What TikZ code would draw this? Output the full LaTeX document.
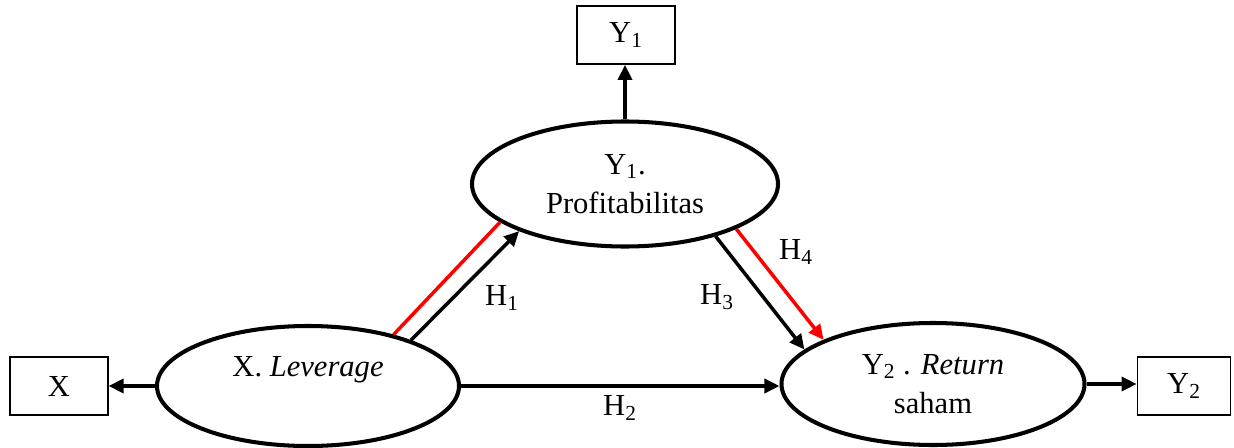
\documentclass[tikz,border=0pt]{standalone}
\usepackage{fontspec}
\setmainfont{Liberation Serif}
\usetikzlibrary{arrows.meta,positioning,shapes.geometric}

\tikzset{
  latent/.style={ellipse, draw, line width=2.3pt, inner sep=0pt, align=center},
  indic/.style={rectangle, draw, line width=1pt, minimum width=1.95cm, minimum height=1.16cm},
  path/.style={->, line width=2pt},
}

\begin{document}
\begin{tikzpicture}[>={Triangle[length=0.3cm,width=0.28cm]}, font=\fontsize{17.4}{22.5}\selectfont]
    \useasboundingbox (0,0) rectangle (24.68,8.94);
    % ---- the three constructs
    \node[latent, minimum width=6.04cm, minimum height=2.4cm] (lev) at (6.16,1.22)
      {X. \textit{Leverage}\\ ~};
    \node[latent, minimum width=6.12cm, minimum height=2.5cm] (prof) at (12.5,5.26)
      {Y\textsubscript{1}.\\ Profitabilitas};
    \node[latent, minimum width=6.06cm, minimum height=2.44cm] (ret) at (18.66,1.26)
      {Y\textsubscript{2} . \textit{Return}\\ saham};
    % ---- the indicator boxes
    \node[indic] (bx) at (1.18,1.22) {X};
    \node[indic] (by1) at (12.52,8.24) {Y\textsubscript{1}};
    \node[indic, minimum width=1.86cm] (by2) at (23.68,1.22) {Y\textsubscript{2}};
    \draw[path] (lev.west) -- (bx.east |- lev.west);
    \draw[path] (prof.north) -- (prof.north |- by1.south);
    \draw[path] (ret.east) -- (by2.west |- ret.east);
    % ---- hypotheses
    \draw[line width=2pt, red] (lev.31) -- (prof.197);
    \draw[path] (lev.24) -- (prof.204);
    \draw[path] (lev.east) -- (ret.west |- lev.east);
    \draw[path] (prof.330) -- (ret.165);
    \draw[path, red] (prof.338) -- (ret.158);
    \node (h1) at (10.04,2.98) {H\textsubscript{1}};
    \node (h2) at (12.4,0.78) {H\textsubscript{2}};
    \node (h3) at (14.34,3.0) {H\textsubscript{3}};
    \node (h4) at (15.92,3.9) {H\textsubscript{4}};
  \end{tikzpicture}
\end{document}
